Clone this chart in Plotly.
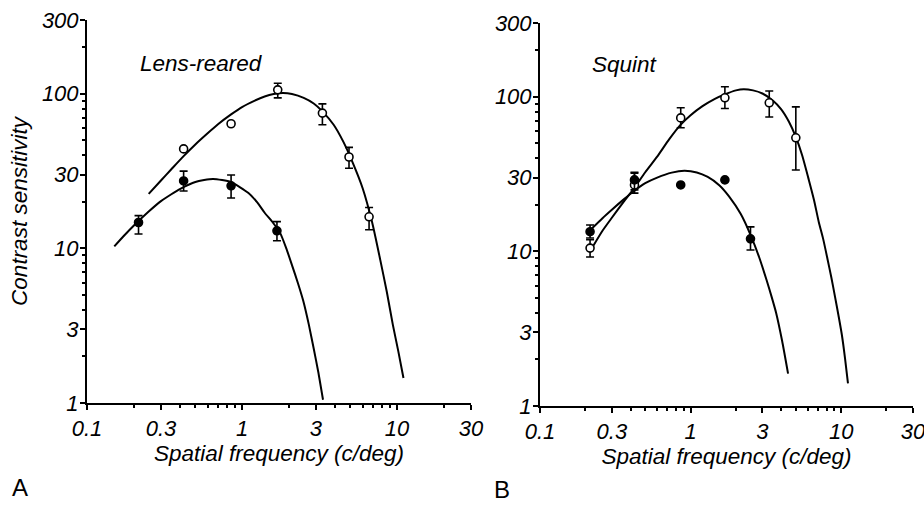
import plotly.graph_objects as go

# ---------------- data ----------------
# Panel A: Lens-reared
a_open_x = [0.42, 0.85, 1.7, 3.3, 4.9, 6.6]
a_open_y = [44, 64, 106, 75, 39, 16]
a_open_ep = [None, None, 11, 11, 6, 2.4]
a_open_em = [None, None, 12, 12, 6, 2.8]

a_fill_x = [0.215, 0.42, 0.85, 1.68]
a_fill_y = [14.7, 27.3, 25.4, 13.0]
a_fill_ep = [1.6, 4.3, 4.4, 1.9]
a_fill_em = [2.3, 3.8, 4.2, 1.8]

a_open_curve_x = [0.25, 0.3, 0.35, 0.42, 0.5, 0.6, 0.7, 0.85, 1.0, 1.2, 1.4, 1.6, 1.84, 2.1, 2.5, 2.9, 3.3, 3.9, 4.5, 5.2, 6.0, 6.9, 7.8, 8.6, 9.4, 10.2, 11.0]
a_open_curve_y = [22.5, 27.5, 32.5, 39.5, 47, 55.5, 63.5, 73.5, 82, 90, 96, 99.5, 101, 99.5, 94, 86.5, 77, 63, 49, 35.5, 24.5, 14.8, 8.4, 5.2, 3.2, 2.15, 1.45]

a_fill_curve_x = [0.15, 0.175, 0.2, 0.25, 0.3, 0.35, 0.4, 0.5, 0.65, 0.85, 1.1, 1.25, 1.4, 1.58, 1.76, 1.93, 2.1, 2.29, 2.48, 2.7, 2.9, 3.1, 3.33]
a_fill_curve_y = [10.3, 12.2, 14.0, 17.3, 20.2, 22.4, 24.3, 26.9, 28.1, 26.8, 22.8, 19.9, 17.0, 14.7, 12.6, 10.0, 7.8, 6.0, 4.6, 3.2, 2.25, 1.6, 1.05]

# Panel B: Squint
b_open_x = [0.215, 0.424, 0.86, 1.69, 3.33, 5.0]
b_open_y = [10.5, 26.9, 73, 98.5, 91.4, 54.3]
b_open_ep = [1.4, 5.1, 12, 17.5, 17.6, 31.7]
b_open_em = [1.3, 3.1, 10, 14.5, 17.4, 20.7]

b_fill_x = [0.215, 0.424, 0.86, 1.69, 2.5]
b_fill_y = [13.4, 29, 26.9, 29, 12.05]
b_fill_ep = [1.4, 3.5, None, None, 2.35]
b_fill_em = [1.2, 4.0, None, None, 1.85]

b_open_curve_x = [0.225, 0.26, 0.3, 0.36, 0.42, 0.5, 0.6, 0.72, 0.86, 1.0, 1.2, 1.45, 1.7, 2.0, 2.25, 2.6, 3.0, 3.5, 4.0, 4.5, 5.0, 5.5, 6.1, 6.6, 7.1, 7.6, 8.1, 8.6, 9.1, 9.6, 10.1, 10.6, 11.1]
b_open_curve_y = [10.8, 13.6, 16.5, 21.0, 25.5, 32.5, 41, 53, 66, 76, 87, 97, 104, 110, 112, 110, 105, 95, 83, 69, 55, 42, 29, 21.5, 15.5, 12.0, 9.0, 6.8, 5.1, 3.85, 2.9, 2.05, 1.4]

b_fill_curve_x = [0.22, 0.26, 0.3, 0.36, 0.42, 0.5, 0.6, 0.75, 0.91, 1.1, 1.3, 1.55, 1.8, 2.15, 2.5, 2.85, 3.2, 3.45, 3.7, 4.05, 4.44]
b_fill_curve_y = [14.0, 16.4, 18.6, 21.7, 24.5, 27.6, 30.0, 32.3, 33.2, 32.4, 30.3, 26.8, 22.7, 17.5, 12.8, 9.2, 6.5, 5.1, 4.0, 2.65, 1.62]

x_tick_vals = [0.1, 0.3, 1, 3, 10, 30]
x_tick_text = ["0.1", "0.3", "1", "3", "10", "30"]
y_tick_vals = [1, 3, 10, 30, 100, 300]
y_tick_text = ["1", "3", "10", "30", "100", "300"]

x_minor = [0.2, 0.4, 0.5, 0.6, 0.7, 0.8, 0.9, 2, 4, 5, 6, 7, 8, 9, 20]
y_minor = [2, 4, 5, 6, 7, 8, 9, 20, 40, 50, 60, 70, 80, 90, 200]

# ---------------- figure ----------------
FONT = "Liberation Sans, Arial, Helvetica, sans-serif"
fig = go.Figure()


def add_panel(xa, ya, curves, pts):
    for cx, cy in curves:
        fig.add_trace(go.Scatter(x=cx, y=cy, mode="lines", line=dict(color="black", width=2, shape="spline", smoothing=0.6),
                                 xaxis=xa, yaxis=ya, showlegend=False, hoverinfo="skip"))
    for px, py, ep, em, filled in pts:
        fig.add_trace(go.Scatter(
            x=px, y=py, mode="markers", xaxis=xa, yaxis=ya, showlegend=False,
            marker=dict(symbol="circle", size=8, color="black" if filled else "white",
                        line=dict(color="black", width=1.6)),
            error_y=dict(type="data", symmetric=False, array=ep, arrayminus=em,
                         color="black", thickness=1.6, width=4)))


add_panel("x", "y",
          [(a_open_curve_x, a_open_curve_y), (a_fill_curve_x, a_fill_curve_y)],
          [(a_open_x, a_open_y, a_open_ep, a_open_em, False),
           (a_fill_x, a_fill_y, a_fill_ep, a_fill_em, True)])
add_panel("x2", "y2",
          [(b_open_curve_x, b_open_curve_y), (b_fill_curve_x, b_fill_curve_y)],
          [(b_open_x, b_open_y, b_open_ep, b_open_em, False),
           (b_fill_x, b_fill_y, b_fill_ep, b_fill_em, True)])

W, H = 924, 505
tickfont = dict(family=FONT, size=22, color="black", style="italic")
titlefont = dict(family=FONT, size=22.5, color="black", style="italic")


def xaxis(domain, anchor):
    return dict(type="log", range=[-1, 1.4771], domain=domain, anchor=anchor, automargin=False,
                showline=True, linecolor="black", linewidth=2, showgrid=False, zeroline=False,
                ticks="outside", ticklen=5, tickwidth=1.5, tickcolor="black",
                ticklabeloverflow="allow",
                tickmode="array", tickvals=x_tick_vals, ticktext=x_tick_text, tickfont=tickfont,
                minor=dict(tickmode="array", tickvals=x_minor, ticks="outside", ticklen=3,
                           tickwidth=1.5, tickcolor="black", showgrid=False),
                title=dict(text="Spatial frequency (c/deg)", font=titlefont, standoff=2))


def yaxis(domain, anchor, title):
    d = dict(type="log", range=[0, 2.4771], domain=domain, anchor=anchor, automargin=False,
             showline=True, linecolor="black", linewidth=2, showgrid=False, zeroline=False,
             ticks="outside", ticklen=5, tickwidth=1.5, tickcolor="black",
             ticklabelstandoff=-3, ticklabeloverflow="allow",
             tickmode="array", tickvals=y_tick_vals, ticktext=y_tick_text, tickfont=tickfont,
             minor=dict(tickmode="array", tickvals=y_minor, ticks="outside", ticklen=3,
                        tickwidth=1.5, tickcolor="black", showgrid=False))
    if title:
        d["title"] = dict(text=title, font=titlefont, standoff=8)
    return d


fig.update_layout(
    width=W, height=H, margin=dict(l=0, r=0, t=0, b=0),
    paper_bgcolor="white", plot_bgcolor="white",
    xaxis=xaxis([87 / W, 471 / W], "y"),
    yaxis=yaxis([1 - 403 / H, 1 - 20 / H], "x", "Contrast sensitivity"),
    xaxis2=xaxis([540 / W, 913 / W], "y2"),
    yaxis2=yaxis([1 - 406 / H, 1 - 23 / H], "x2", None),
    annotations=[
        dict(text="Lens-reared", x=201 / W, y=1 - 63 / H, xref="paper", yref="paper",
             showarrow=False, font=titlefont, xanchor="center", yanchor="middle"),
        dict(text="Squint", x=625 / W, y=1 - 64 / H, xref="paper", yref="paper",
             showarrow=False, font=titlefont, xanchor="center", yanchor="middle"),
        dict(text="A", x=20 / W, y=1 - 487 / H, xref="paper", yref="paper",
             showarrow=False, font=dict(family=FONT, size=24, color="black"), xanchor="center", yanchor="middle"),
        dict(text="B", x=502 / W, y=1 - 489 / H, xref="paper", yref="paper",
             showarrow=False, font=dict(family=FONT, size=24, color="black"), xanchor="center", yanchor="middle"),
    ],
)

fig.write_html("out.html")
